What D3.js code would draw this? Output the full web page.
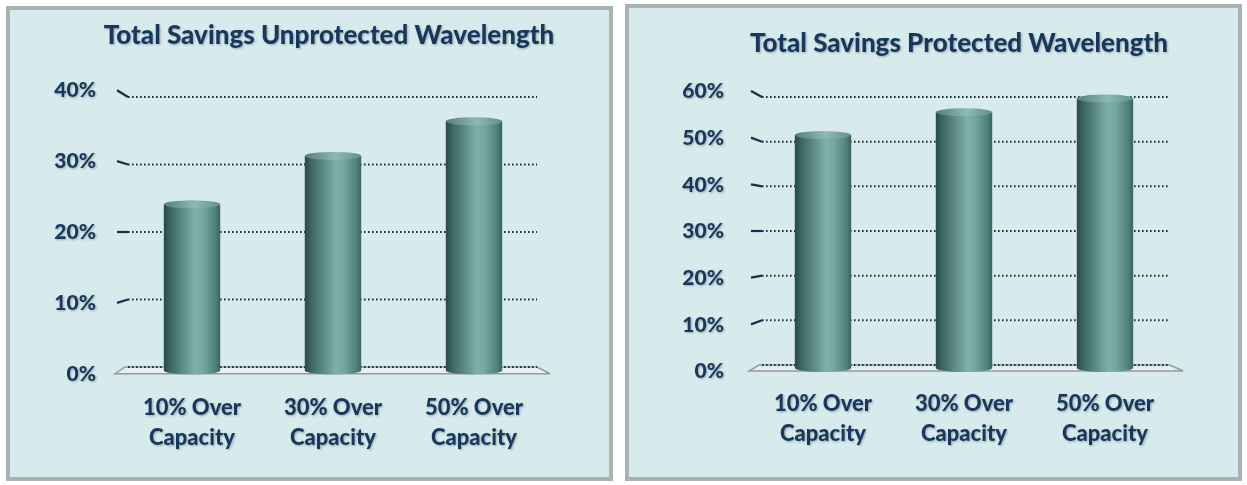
<!DOCTYPE html>
<html>
<head>
<meta charset="utf-8">
<script src="https://cdn.jsdelivr.net/npm/d3@7"></script>
<style>
  html, body { margin: 0; padding: 0; background: #ffffff; }
  svg text { font-family: Lato, "Open Sans", sans-serif; font-weight: 900; fill: #17375e; }
</style>
</head>
<body>
<svg id="chart" width="1247" height="485"></svg>
<script>
// chart data
const categoryLines = [["10% Over", "Capacity"], ["30% Over", "Capacity"], ["50% Over", "Capacity"]];
const unprotectedValues = [0.24, 0.31, 0.36];
const protectedValues = [0.51, 0.56, 0.59];
const unprotectedTicks = [0, 0.1, 0.2, 0.3, 0.4];
const protectedTicks = [0, 0.1, 0.2, 0.3, 0.4, 0.5, 0.6];
const titles = ["Total Savings Unprotected Wavelength", "Total Savings Protected Wavelength"];

const svg = d3.select('#chart');
const defs = svg.append('defs');

// cylinder shading
const bodyGrad = defs.append('linearGradient').attr('id', 'cyl-body')
  .attr('x1', '0%').attr('x2', '100%').attr('y1', '0%').attr('y2', '0%');
[[0, '#284a47'], [0.12, '#3d6763'], [0.55, '#7eafa9'], [0.68, '#78a8a2'], [0.9, '#54837d'], [1, '#3a6460']]
  .forEach(([o, c]) => bodyGrad.append('stop').attr('offset', o).attr('stop-color', c));
const topGrad = defs.append('linearGradient').attr('id', 'cyl-top')
  .attr('x1', '0%').attr('x2', '100%');
[[0, '#557f7a'], [0.55, '#8dbab4'], [1, '#628f89']]
  .forEach(([o, c]) => topGrad.append('stop').attr('offset', o).attr('stop-color', c));

// soft text shadow like the original
const shadow = defs.append('filter').attr('id', 'txt-shadow')
  .attr('x', '-5%').attr('y', '-20%').attr('width', '110%').attr('height', '140%');
shadow.append('feDropShadow').attr('dx', 1).attr('dy', 1).attr('stdDeviation', 0.8)
  .attr('flood-color', '#6b7f88').attr('flood-opacity', 0.6);

function drawPanel(cfg) {
  const g = svg.append('g');

  // frame
  g.append('rect')
    .attr('x', cfg.box[0] + 2).attr('y', cfg.box[1] + 2)
    .attr('width', cfg.box[2] - cfg.box[0]).attr('height', cfg.box[3] - cfg.box[1])
    .attr('fill', '#4a4f50');
  g.append('rect')
    .attr('x', cfg.box[0]).attr('y', cfg.box[1])
    .attr('width', cfg.box[2] - cfg.box[0]).attr('height', cfg.box[3] - cfg.box[1])
    .attr('fill', '#d7ebec')
    .attr('stroke', '#a7b2b3')
    .attr('stroke-width', 4);

  g.append('text')
    .attr('x', cfg.titleX).attr('y', cfg.titleY)
    .attr('text-anchor', 'middle')
    .attr('font-size', 26)
    .attr('filter', 'url(#txt-shadow)')
    .text(cfg.title);

  const maxV = d3.max(cfg.ticks);
  // back wall, front edge and bar mid-plane scales
  const yBack = d3.scaleLinear().domain([0, maxV]).range(cfg.yRange);
  const mid = (cfg.yRange[0] + cfg.yRange[1]) / 2;
  const yFront = d3.scaleLinear().domain([0, maxV])
    .range(cfg.yRange.map(v => mid + (v - mid) * cfg.persp));
  const yBar = d3.scaleLinear().domain([0, maxV])
    .range(cfg.yRange.map(v => mid + (v - mid) * (1 + (cfg.persp - 1) / 2)));

  const x = d3.scaleBand().domain(d3.range(cfg.values.length))
    .range(cfg.xBand).paddingInner(0.6).paddingOuter(0.3);

  // floor
  const x0 = cfg.gridX[0], x1 = cfg.gridX[1];
  g.append('polygon')
    .attr('points', [[x0 - 3, yBack(0)], [x1, yBack(0)], [x1 + 13, yFront(0)], [x0 - 13, yFront(0)]].join(' '))
    .attr('fill', '#e9eeee')
    .attr('stroke', '#8f9c9d')
    .attr('stroke-width', 1.5);

  // grid lines (dotted) and slanted ticks
  g.append('g').selectAll('line').data(cfg.ticks).join('line')
    .attr('x1', x0).attr('x2', x1)
    .attr('y1', d => yBack(d)).attr('y2', d => yBack(d))
    .attr('stroke', '#1c2c48')
    .attr('stroke-width', 2)
    .attr('stroke-dasharray', '1.6,2.4');
  g.append('g').selectAll('line').data(cfg.ticks.filter(d => d > 0)).join('line')
    .attr('x1', x0 - 11).attr('x2', x0)
    .attr('y1', d => yFront(d)).attr('y2', d => yBack(d))
    .attr('stroke', '#1c2c48')
    .attr('stroke-width', 2.2);

  // y labels
  const axis = d3.axisLeft(yFront).tickValues(cfg.ticks).tickSize(0).tickFormat(d3.format('.0%'));
  const ax = g.append('g').attr('transform', `translate(${cfg.labelX},0)`).call(axis);
  ax.select('.domain').remove();
  ax.selectAll('text')
    .attr('font-size', 21)
    .attr('fill', '#17375e')
    .attr('filter', 'url(#txt-shadow)')
    .style('font-family', 'Lato, sans-serif')
    .style('font-weight', 900)
    .attr('x', 0);

  // cylinders
  const ry = 4;
  const bars = g.append('g').selectAll('g').data(cfg.values).join('g');
  bars.append('path')
    .attr('d', (d, i) => {
      const l = x(i), r = x(i) + x.bandwidth(), rx = x.bandwidth() / 2;
      const top = yBar(d), bot = yBar(0);
      return `M${l},${top} L${l},${bot} A${rx},${ry} 0 0 0 ${r},${bot} L${r},${top} Z`;
    })
    .attr('fill', 'url(#cyl-body)');
  bars.append('ellipse')
    .attr('cx', (d, i) => x(i) + x.bandwidth() / 2)
    .attr('cy', d => yBar(d))
    .attr('rx', x.bandwidth() / 2)
    .attr('ry', ry)
    .attr('fill', 'url(#cyl-top)');

  // category labels
  const labels = g.append('g').selectAll('text').data(categoryLines).join('text')
    .attr('text-anchor', 'middle')
    .attr('font-size', 22)
    .attr('filter', 'url(#txt-shadow)')
    .attr('x', (d, i) => x(i) + x.bandwidth() / 2)
    .attr('y', cfg.catY);
  labels.selectAll('tspan').data(d => d).join('tspan')
    .attr('x', function() { return d3.select(this.parentNode).attr('x'); })
    .attr('dy', (d, i) => i === 0 ? 0 : 30)
    .text(d => d);
}

drawPanel({
  box: [8, 8, 611, 479],
  title: titles[0], titleX: 329, titleY: 44,
  values: unprotectedValues, ticks: unprotectedTicks,
  yRange: [367, 97], persp: 1.05,
  gridX: [128, 537], xBand: [121.5, 544.5],
  labelX: 96, catY: 415
});

drawPanel({
  box: [627, 6, 1240, 479],
  title: titles[1], titleX: 959, titleY: 52,
  values: protectedValues, ticks: protectedTicks,
  yRange: [365, 97], persp: 1.045,
  gridX: [762, 1170], xBand: [752.5, 1175.5],
  labelX: 724, catY: 411
});
</script>
</body>
</html>
